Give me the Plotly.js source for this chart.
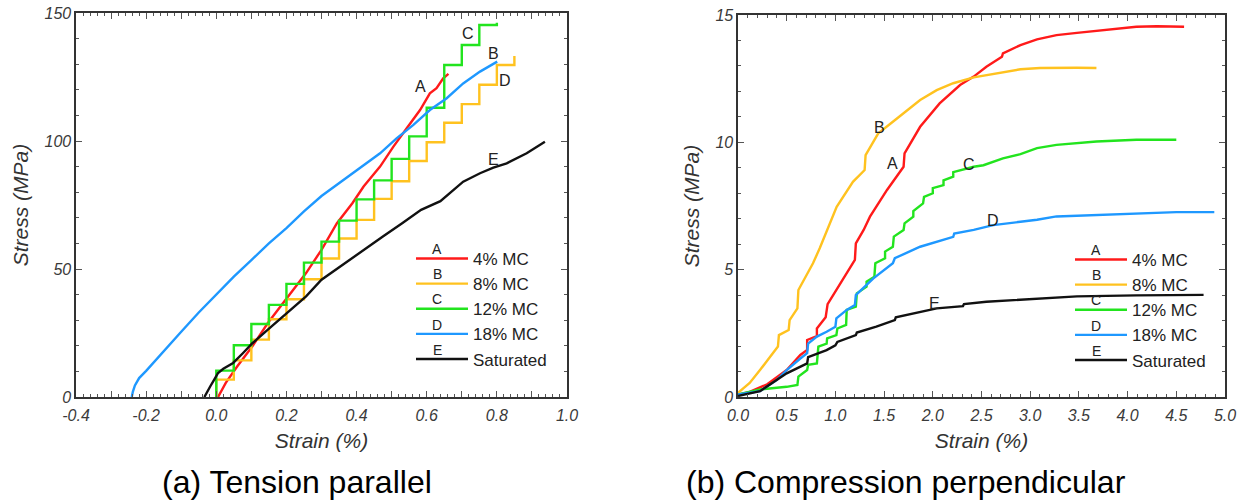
<!DOCTYPE html>
<html>
<head>
<meta charset="utf-8">
<script src="https://cdn.plot.ly/plotly-3.0.1.min.js"></script>
<style>html,body{margin:0;padding:0;background:#fff;}#chart{width:1243px;height:503px;}</style>
</head>
<body>
<div id="chart"></div>
<script>
// ---------- (a) Tension parallel ----------
const seriesNames = ['4% MC', '8% MC', '12% MC', '18% MC', 'Saturated'];
const seriesLetters = ['A', 'B', 'C', 'D', 'E'];

const tensionA_x = [0.005, 0.027, 0.06, 0.103, 0.147, 0.2, 0.256, 0.3, 0.344, 0.388, 0.42, 0.467, 0.505, 0.543, 0.581, 0.609, 0.628, 0.647, 0.662];
const tensionA_y = [0, 5.5, 12, 19.8, 28.9, 38.6, 48.4, 57.5, 67.9, 75.7, 82.2, 90, 97.8, 105, 112.1, 118.6, 120.6, 124.5, 126.2];

// step curves (value held until next strain point)
const tensionB_x = [0.0, 0.0, 0.05, 0.10, 0.15, 0.20, 0.25, 0.30, 0.35, 0.40, 0.45, 0.50, 0.55, 0.60, 0.65, 0.70, 0.75, 0.80, 0.85];
const tensionB_y = [0, 6.8, 14.3, 22.4, 30.4, 38.2, 46, 54.1, 61.9, 69.2, 77.4, 84.3, 92.2, 99.5, 107.1, 114.4, 122, 129.7, 133.2];

const tensionC_x = [0.0, 0.0, 0.05, 0.10, 0.15, 0.20, 0.25, 0.30, 0.35, 0.40, 0.45, 0.50, 0.55, 0.60, 0.65, 0.70, 0.75, 0.80];
const tensionC_y = [0, 10.3, 20.2, 28.5, 36, 44.2, 52.5, 60.7, 68.9, 77.2, 84.6, 93, 101.8, 113, 129.7, 137.5, 145.3, 146.2];

const tensionD_x = [-0.241, -0.238, -0.232, -0.22, -0.2, -0.15, -0.1, -0.05, 0, 0.05, 0.1, 0.15, 0.2, 0.25, 0.3, 0.35, 0.4, 0.467, 0.514, 0.562, 0.609, 0.657, 0.704, 0.752, 0.801];
const tensionD_y = [0, 2, 4.5, 7.4, 10.2, 18, 25.5, 33, 40, 47, 53.5, 60, 66, 72.5, 78.5, 83.5, 88.5, 95.2, 101, 106.3, 112.1, 116.7, 122.5, 127.1, 131];

const tensionE_x = [-0.034, -0.025, -0.017, -0.005, 0.005, 0.02, 0.048, 0.075, 0.103, 0.147, 0.202, 0.256, 0.3, 0.366, 0.42, 0.475, 0.53, 0.584, 0.639, 0.704, 0.752, 0.79, 0.828, 0.885, 0.937];
const tensionE_y = [0, 2.5, 4.2, 7, 9.4, 11, 13.3, 17, 21, 26.3, 32.8, 39.3, 45.8, 52.3, 57.5, 62.7, 67.9, 73.1, 76.5, 84.1, 87.4, 89.6, 91.3, 95.2, 99.7];

const tensionXTicks = [-0.4, -0.3, -0.2, -0.1, 0.0, 0.1, 0.2, 0.3, 0.4, 0.5, 0.6, 0.7, 0.8, 0.9, 1.0];
const tensionXLabels = ['-0.4', '', '-0.2', '', '0.0', '', '0.2', '', '0.4', '', '0.6', '', '0.8', '', '1.0'];
const tensionYTicks = [0, 50, 100, 150];

// curve labels inside plot (a)
const tensionLabel_x = [0.583, 0.79, 0.719, 0.823, 0.79];
const tensionLabel_y = [121.2, 134.3, 142, 123.8, 92.6];
const tensionLabel_t = ['A', 'B', 'C', 'D', 'E'];

// ---------- (b) Compression perpendicular ----------
const compA_x = [0, 0.12, 0.3, 0.5, 0.64, 0.71, 0.71, 0.81, 0.81, 0.9, 0.92, 1.2, 1.21, 1.29, 1.355, 1.53, 1.7, 1.71, 1.87, 2.07, 2.28, 2.42, 2.55, 2.71, 2.72, 2.9, 3.07, 3.27, 3.48, 3.68, 3.88, 4.09, 4.3, 4.58];
const compA_y = [0.09, 0.2, 0.5, 1.06, 1.65, 1.85, 2.24, 2.39, 2.69, 3.13, 3.65, 5.38, 6.03, 6.56, 7.08, 8.13, 9.04, 9.57, 10.61, 11.53, 12.25, 12.58, 12.97, 13.36, 13.49, 13.82, 14.04, 14.21, 14.3, 14.38, 14.48, 14.54, 14.56, 14.54];

const compB_x = [0, 0.12, 0.226, 0.41, 0.42, 0.52, 0.53, 0.61, 0.62, 0.77, 0.84, 1.013, 1.18, 1.3, 1.31, 1.44, 1.59, 1.87, 2.04, 2.21, 2.42, 2.62, 2.9, 3.1, 3.27, 3.48, 3.68];
const compB_y = [0.16, 0.55, 1.06, 1.98, 2.43, 2.63, 3.02, 3.48, 4.2, 5.25, 5.85, 7.47, 8.45, 8.91, 9.5, 10.35, 10.81, 11.66, 12.05, 12.32, 12.55, 12.68, 12.87, 12.92, 12.93, 12.93, 12.92];

const compC_x = [0, 0.226, 0.5, 0.61, 0.62, 0.71, 0.72, 0.81, 0.825, 0.91, 0.915, 1.01, 1.02, 1.11, 1.116, 1.21, 1.22, 1.32, 1.32, 1.4, 1.41, 1.51, 1.51, 1.59, 1.6, 1.7, 1.71, 1.8, 1.8, 1.9, 1.91, 2.0, 2.0, 2.11, 2.11, 2.21, 2.21, 2.42, 2.52, 2.72, 2.9, 3.07, 3.27, 3.68, 4.09, 4.5];
const compC_y = [0.1, 0.3, 0.4, 0.47, 0.8, 1.06, 1.26, 1.32, 1.98, 2.1, 2.3, 2.43, 2.69, 2.83, 3.42, 3.55, 4.07, 4.33, 4.53, 4.72, 5.25, 5.45, 5.71, 5.9, 6.3, 6.56, 6.82, 7.08, 7.3, 7.6, 7.86, 8.0, 8.2, 8.32, 8.51, 8.65, 8.83, 9.04, 9.1, 9.37, 9.54, 9.77, 9.9, 10.03, 10.1, 10.1];

const compD_x = [0, 0.226, 0.4, 0.5, 0.64, 0.71, 0.72, 0.81, 0.91, 1.0, 1.01, 1.116, 1.2, 1.21, 1.39, 1.59, 1.61, 1.87, 2.21, 2.22, 2.42, 2.62, 2.9, 3.07, 3.27, 3.68, 4.09, 4.5, 4.89];
const compD_y = [0.1, 0.23, 0.67, 1.06, 1.51, 1.72, 2.1, 2.37, 2.56, 2.76, 3.09, 3.42, 3.61, 4.0, 4.66, 5.25, 5.45, 5.9, 6.29, 6.42, 6.56, 6.75, 6.88, 6.96, 7.09, 7.15, 7.22, 7.26, 7.26];

const compE_x = [0, 0.226, 0.5, 0.71, 0.72, 0.91, 1.0, 1.02, 1.21, 1.22, 1.42, 1.61, 1.62, 1.87, 2.04, 2.31, 2.32, 2.55, 2.9, 3.2, 3.48, 4.09, 4.78];
const compE_y = [0.04, 0.23, 0.93, 1.32, 1.57, 1.84, 2.03, 2.16, 2.43, 2.53, 2.76, 3.02, 3.13, 3.35, 3.48, 3.57, 3.65, 3.74, 3.83, 3.88, 3.95, 3.99, 4.01];

const compXTicks = [0, 0.5, 1.0, 1.5, 2.0, 2.5, 3.0, 3.5, 4.0, 4.5, 5.0];
const compXLabels = ['0.0', '0.5', '1.0', '1.5', '2.0', '2.5', '3.0', '3.5', '4.0', '4.5', '5.0'];
const compYTicks = [0, 5, 10, 15];

const compLabel_x = [1.59, 1.45, 2.37, 2.62, 2.02];
const compLabel_y = [9.17, 10.57, 9.14, 6.95, 3.68];
const compLabel_t = ['A', 'B', 'C', 'D', 'E'];

const captions = ['(a) Tension parallel', '(b) Compression perpendicular'];

// ---------- styles ----------
const colors = ['#ff1a1a', '#ffc21f', '#22e41e', '#1e98ff', '#111111'];
const LW = 2.4;
const FONT = 'Liberation Sans, Arial, Helvetica, sans-serif';

const tensionSeries = [[tensionA_x, tensionA_y, 'linear'], [tensionB_x, tensionB_y, 'hv'], [tensionC_x, tensionC_y, 'hv'], [tensionD_x, tensionD_y, 'linear'], [tensionE_x, tensionE_y, 'linear']];
const compSeries = [[compA_x, compA_y], [compB_x, compB_y], [compC_x, compC_y], [compD_x, compD_y], [compE_x, compE_y]];

const traces = [];
tensionSeries.forEach((s, i) => {
  traces.push({x: s[0], y: s[1], xaxis: 'x', yaxis: 'y', type: 'scatter', mode: 'lines',
    line: {color: colors[i], width: LW, shape: s[2]}, name: seriesNames[i],
    legend: 'legend', legendgroup: 'a' + i});
});
compSeries.forEach((s, i) => {
  traces.push({x: s[0], y: s[1], xaxis: 'x2', yaxis: 'y2', type: 'scatter', mode: 'lines',
    line: {color: colors[i], width: LW}, name: seriesNames[i],
    legend: 'legend2', legendgroup: 'b' + i});
});

const tickFont = {family: FONT, size: 16, style: 'italic', color: '#3a3a3a'};
const titleFont = {family: FONT, size: 21, style: 'italic', color: '#333'};
function axisBase() {
  return {showline: true, linecolor: '#333', linewidth: 1.6, mirror: 'ticks', ticks: 'inside',
    ticklen: 6, tickwidth: 1, tickcolor: '#555', showgrid: false, zeroline: false,
    tickfont: tickFont, automargin: false, fixedrange: true};
}

const W = 1243, H = 503;
const px = v => v / W, py = v => 1 - v / H;

const annotations = [];
const lblFont = {family: FONT, size: 16, color: '#222'};
tensionLabel_t.forEach((t, i) => annotations.push({x: tensionLabel_x[i], y: tensionLabel_y[i], xref: 'x', yref: 'y', text: t, showarrow: false, xanchor: 'center', yanchor: 'middle', font: lblFont}));
compLabel_t.forEach((t, i) => annotations.push({x: compLabel_x[i], y: compLabel_y[i], xref: 'x2', yref: 'y2', text: t, showarrow: false, xanchor: 'center', yanchor: 'middle', font: lblFont}));
// letters above legend keys
const letFont = {family: FONT, size: 14, color: '#222'};
seriesLetters.forEach((t, i) => {
  annotations.push({x: px(437), y: py(249 + i * 25.2), xref: 'paper', yref: 'paper', text: t, showarrow: false, xanchor: 'center', yanchor: 'middle', font: letFont});
  annotations.push({x: px(1096), y: py(250 + i * 25.2), xref: 'paper', yref: 'paper', text: t, showarrow: false, xanchor: 'center', yanchor: 'middle', font: letFont});
});
const capFont = {family: FONT, size: 32, color: '#000'};
annotations.push({x: px(297), y: py(482), xref: 'paper', yref: 'paper', text: captions[0], showarrow: false, xanchor: 'center', yanchor: 'middle', font: capFont});
annotations.push({x: px(906), y: py(482), xref: 'paper', yref: 'paper', text: captions[1], showarrow: false, xanchor: 'center', yanchor: 'middle', font: capFont});

const legendBase = {xanchor: 'left', yanchor: 'top', bgcolor: 'rgba(0,0,0,0)', borderwidth: 0,
  font: {family: FONT, size: 17, color: '#222'}, tracegroupgap: 0, itemwidth: 52, traceorder: 'grouped'};

const layout = {
  width: W, height: H,
  margin: {l: 0, r: 0, t: 0, b: 0},
  paper_bgcolor: '#fff', plot_bgcolor: '#fff',
  showlegend: true,
  xaxis: Object.assign(axisBase(), {domain: [px(76), px(567)], range: [-0.4, 1.0], anchor: 'y',
    tickmode: 'array', tickvals: tensionXTicks, ticktext: tensionXLabels, ticklabelstandoff: 3,
    minor: {dtick: 0.02, tick0: 0, ticks: 'inside', ticklen: 3, tickcolor: '#555', showgrid: false},
    title: {text: 'Strain (%)', font: titleFont, standoff: 10}}),
  yaxis: Object.assign(axisBase(), {domain: [py(397), py(13)], range: [0, 150], anchor: 'x',
    tickmode: 'array', tickvals: tensionYTicks,
    minor: {dtick: 10, tick0: 0, ticks: 'inside', ticklen: 3, tickcolor: '#555', showgrid: false},
    title: {text: 'Stress (MPa)', font: titleFont, standoff: 10}}),
  xaxis2: Object.assign(axisBase(), {domain: [px(738), px(1225)], range: [0, 5], anchor: 'y2',
    tickmode: 'array', tickvals: compXTicks, ticktext: compXLabels, ticklabelstandoff: 3,
    minor: {dtick: 0.1, tick0: 0, ticks: 'inside', ticklen: 3, tickcolor: '#555', showgrid: false},
    title: {text: 'Strain (%)', font: titleFont, standoff: 10}}),
  yaxis2: Object.assign(axisBase(), {domain: [py(397), py(15)], range: [0, 15], anchor: 'x2',
    tickmode: 'array', tickvals: compYTicks,
    minor: {dtick: 1, tick0: 0, ticks: 'inside', ticklen: 3, tickcolor: '#555', showgrid: false},
    title: {text: 'Stress (MPa)', font: titleFont, standoff: 10}}),
  legend: Object.assign({}, legendBase, {x: px(411), y: py(241)}),
  legend2: Object.assign({}, legendBase, {x: px(1070), y: py(242)}),
  annotations: annotations
};

Plotly.newPlot('chart', traces, layout, {staticPlot: true, displayModeBar: false});
</script>
</body>
</html>
